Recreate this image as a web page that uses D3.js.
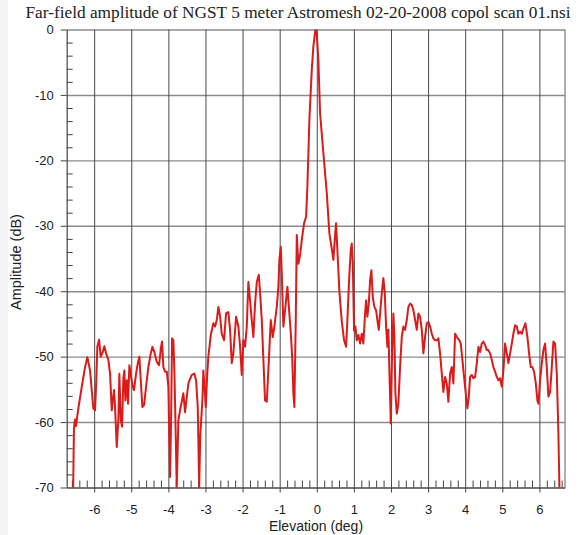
<!DOCTYPE html>
<html><head><meta charset="utf-8">
<script src="https://cdn.jsdelivr.net/npm/d3@7"></script>
<style>body{margin:0;background:#fff}svg{display:block}</style>
</head><body><svg id="c" width="578" height="535"></svg>
<script>
const title = "Far-field amplitude of NGST 5 meter Astromesh 02-20-2008 copol scan 01.nsi";
const xLabel = "Elevation (deg)";
const yLabel = "Amplitude (dB)";
const xTicks = [-6,-5,-4,-3,-2,-1,0,1,2,3,4,5,6];
const yTicks = [-70,-60,-50,-40,-30,-20,-10,0];

const elevation = [
-6.565,-6.545,-6.515,-6.490,-6.426,-6.334,-6.245,-6.183,-6.111,-6.022,
-5.976,-5.949,-5.914,-5.868,-5.822,-5.768,-5.725,-5.679,-5.617,-5.571,
-5.526,-5.499,-5.464,-5.437,-5.391,-5.348,-5.321,-5.283,-5.248,-5.213,
-5.186,-5.159,-5.121,-5.086,-5.051,-5.005,-4.960,-4.925,-4.871,-4.817,
-4.782,-4.744,-4.701,-4.655,-4.601,-4.539,-4.474,-4.431,-4.377,-4.313,
-4.251,-4.197,-4.170,-4.135,-4.089,-4.043,-4.000,-3.954,-3.927,-3.900,
-3.865,-3.838,-3.801,-3.774,-3.730,-3.685,-3.596,-3.550,-3.461,-3.369,
-3.299,-3.253,-3.208,-3.191,-3.170,-3.140,-3.083,-3.057,-3.020,-2.992,
-2.955,-2.922,-2.857,-2.787,-2.741,-2.695,-2.652,-2.606,-2.561,-2.499,
-2.445,-2.383,-2.337,-2.291,-2.248,-2.175,-2.113,-2.067,-2.022,-1.978,
-1.933,-1.887,-1.844,-1.798,-1.752,-1.709,-1.663,-1.617,-1.563,-1.528,
-1.482,-1.439,-1.394,-1.348,-1.305,-1.240,-1.186,-1.143,-1.078,-1.035,
-1.008,-0.970,-0.943,-0.900,-0.854,-0.792,-0.739,-0.693,-0.660,-0.631,
-0.604,-0.566,-0.539,-0.496,-0.450,-0.404,-0.342,-0.288,-0.253,-0.199,
-0.135,-0.092,-0.038,0.000,0.043,0.089,0.178,0.270,0.340,0.404,
0.447,0.493,0.520,0.555,0.609,0.674,0.736,0.790,0.825,0.871,
0.916,0.943,0.970,1.005,1.041,1.078,1.121,1.167,1.213,1.256,
1.302,1.329,1.364,1.402,1.437,1.472,1.509,1.553,1.598,1.633,
1.671,1.706,1.752,1.795,1.833,1.868,1.903,1.930,1.957,1.995,
2.030,2.065,2.092,2.119,2.156,2.199,2.245,2.291,2.334,2.380,
2.426,2.469,2.515,2.561,2.604,2.650,2.695,2.739,2.784,2.830,
2.873,2.919,2.965,3.008,3.054,3.100,3.143,3.189,3.235,3.278,
3.323,3.369,3.412,3.458,3.504,3.547,3.593,3.639,3.682,3.728,
3.774,3.844,3.881,3.916,3.970,4.024,4.059,4.097,4.132,4.178,
4.221,4.267,4.313,4.356,4.402,4.447,4.491,4.536,4.582,4.625,
4.671,4.717,4.760,4.806,4.852,4.895,4.941,4.987,5.030,5.075,
5.121,5.164,5.210,5.256,5.299,5.345,5.391,5.434,5.480,5.526,
5.569,5.623,5.677,5.722,5.768,5.811,5.857,5.903,5.946,5.973,
6.019,6.065,6.108,6.154,6.199,6.243,6.288,6.334,6.377,6.423,
6.469,6.512,6.539
];

const amplitude = [
-70.0,-61.0,-59.6,-60.6,-57.9,-54.6,-51.6,-50.1,-52.1,-57.9,
-58.2,-54.6,-48.5,-47.4,-50.0,-49.3,-48.4,-49.5,-50.5,-52.6,
-58.2,-56.7,-55.1,-57.7,-63.8,-59.7,-52.6,-59.7,-60.7,-53.3,
-52.1,-56.7,-53.6,-57.2,-51.3,-53.1,-54.6,-55.1,-52.6,-50.8,
-50.0,-53.6,-57.7,-57.4,-54.6,-51.6,-49.5,-48.5,-49.3,-50.8,
-51.3,-48.5,-47.7,-51.6,-52.3,-52.3,-54.6,-68.4,-59.7,-47.2,
-47.5,-52.1,-62.3,-70.0,-59.7,-58.2,-55.6,-58.5,-54.1,-52.8,
-52.6,-53.6,-57.7,-62.8,-70.0,-62.0,-56.7,-52.1,-55.0,-57.7,
-53.0,-50.0,-46.7,-44.9,-45.4,-44.4,-42.4,-43.9,-46.5,-47.5,
-43.4,-43.2,-45.9,-51.0,-49.5,-43.9,-45.4,-48.5,-52.8,-47.5,
-48.5,-45.4,-38.6,-41.4,-44.4,-47.0,-41.9,-38.6,-37.5,-40.3,
-44.4,-50.5,-56.7,-56.9,-52.1,-44.4,-47.0,-45.4,-42.4,-39.3,
-35.2,-33.2,-37.3,-45.4,-42.9,-39.3,-43.4,-47.0,-50.5,-55.6,
-57.7,-44.4,-31.4,-35.8,-34.5,-32.2,-29.6,-28.6,-24.0,-13.8,
-6.2,-2.6,-0.1,-0.6,-4.7,-12.8,-18.9,-25.0,-31.2,-33.5,
-35.2,-31.5,-29.6,-33.7,-40.0,-44.6,-47.5,-48.5,-44.4,-38.3,
-33.7,-32.7,-35.5,-46.0,-45.4,-47.5,-46.7,-48.0,-46.5,-48.0,
-43.4,-41.4,-43.9,-41.9,-38.3,-36.8,-40.9,-42.4,-42.9,-44.4,
-45.9,-43.4,-40.3,-38.0,-40.3,-45.4,-48.5,-45.9,-52.1,-60.2,
-49.5,-43.4,-47.0,-55.6,-58.7,-57.2,-51.6,-47.0,-45.4,-45.9,
-44.4,-42.4,-41.9,-42.1,-42.9,-44.4,-45.9,-43.4,-43.9,-45.9,
-49.5,-47.0,-44.9,-44.7,-45.4,-46.5,-47.2,-47.5,-47.5,-47.2,
-49.5,-52.6,-55.4,-53.1,-54.1,-56.9,-52.6,-51.6,-54.1,-46.5,
-47.0,-47.5,-48.0,-50.0,-53.1,-56.1,-57.9,-56.1,-53.1,-52.8,
-53.3,-53.1,-51.0,-48.5,-49.3,-48.0,-47.7,-48.2,-49.0,-49.0,
-49.5,-50.5,-51.6,-52.3,-53.1,-53.6,-53.3,-54.6,-52.1,-48.0,
-49.5,-51.0,-49.5,-48.0,-46.5,-45.2,-45.4,-46.5,-46.2,-46.5,
-45.7,-44.9,-47.0,-49.5,-51.6,-51.6,-52.3,-54.1,-56.7,-57.2,
-53.6,-51.0,-49.0,-48.0,-51.6,-56.1,-55.4,-51.6,-47.7,-48.0,
-52.6,-61.7,-70.0
];

const svg = d3.select("#c");
const L = 66.7, R = 565, T = 29.5, B = 487.5;
const x = d3.scaleLinear().domain([-6.74, 6.69]).range([L, R]);
const y = d3.scaleLinear().domain([-70, 0]).range([B, T]);
const sans = "'Liberation Sans', Arial, sans-serif";
const fmt = d => String(d);

svg.append("rect").attr("width",578).attr("height",535).attr("fill","#fff");
svg.append("rect").attr("width",8).attr("height",535).attr("fill","#f3f3f6");

// horizontal gridlines
svg.append("g").attr("transform",`translate(${L},0)`)
  .call(d3.axisLeft(y).tickValues(yTicks).tickSize(-(R-L)).tickFormat(""))
  .call(g=>g.select(".domain").remove())
  .call(g=>g.selectAll("line").attr("stroke","#8c8c8c").attr("stroke-width",1.4));

// vertical gridlines
svg.append("g").attr("transform",`translate(0,${B})`)
  .call(d3.axisBottom(x).tickValues(xTicks).tickSize(-(B-T)).tickFormat(""))
  .call(g=>g.select(".domain").remove())
  .call(g=>g.selectAll("line").attr("stroke","#4a4a4a").attr("stroke-width",1));

// right frame
svg.append("line").attr("x1",R).attr("x2",R).attr("y1",T).attr("y2",B)
  .attr("stroke","#8c8c8c").attr("stroke-width",1.4);

// minor ticks
const minorY = d3.range(-68, 0, 2).filter(v => v % 10 !== 0);
svg.append("g").attr("transform",`translate(${L},0)`)
  .call(d3.axisLeft(y).tickValues(minorY).tickSize(-6).tickFormat(""))
  .call(g=>g.select(".domain").remove())
  .call(g=>g.selectAll("line").attr("stroke","#444"));
const minorX = d3.range(-66, 67, 2).map(v => v/10).filter(v => Math.abs(v - Math.round(v)) > 1e-6);
svg.append("g").attr("transform",`translate(0,${B})`)
  .call(d3.axisBottom(x).tickValues(minorX).tickSize(-7).tickFormat(""))
  .call(g=>g.select(".domain").remove())
  .call(g=>g.selectAll("line").attr("stroke","#444"));

// main axes with labels
const yAx = svg.append("g").attr("transform",`translate(${L},0)`)
  .call(d3.axisLeft(y).tickValues(yTicks).tickFormat(fmt).tickSize(6).tickPadding(7).tickSizeOuter(0));
const xAx = svg.append("g").attr("transform",`translate(0,${B})`)
  .call(d3.axisBottom(x).tickValues(xTicks).tickFormat(fmt).tickSize(5).tickPadding(12).tickSizeOuter(0));
[yAx, xAx].forEach(g => {
  g.select(".domain").attr("stroke","#444").attr("stroke-width",1.2);
  g.selectAll("line").attr("stroke","#444");
  g.selectAll("text").attr("font-family",sans).attr("font-size",13).attr("fill","#222");
});

// data line
const line = d3.line().x((d,i)=>x(elevation[i])).y(d=>y(d));
svg.append("path").datum(amplitude).attr("d",line)
  .attr("fill","none").attr("stroke","#dd1a1a").attr("stroke-width",2)
  .attr("stroke-linejoin","round");

// titles
svg.append("text").attr("x",298).attr("y",18).attr("text-anchor","middle")
  .attr("font-family","'Liberation Serif', 'Times New Roman', serif").attr("font-size",17.3)
  .attr("fill","#222").text(title);
svg.append("text").attr("x",316).attr("y",531).attr("text-anchor","middle")
  .attr("font-family",sans).attr("font-size",14).attr("fill","#222").text(xLabel);
svg.append("text").attr("transform","translate(21,262) rotate(-90)").attr("text-anchor","middle")
  .attr("font-family",sans).attr("font-size",14.5).attr("fill","#222").text(yLabel);
</script></body></html>
